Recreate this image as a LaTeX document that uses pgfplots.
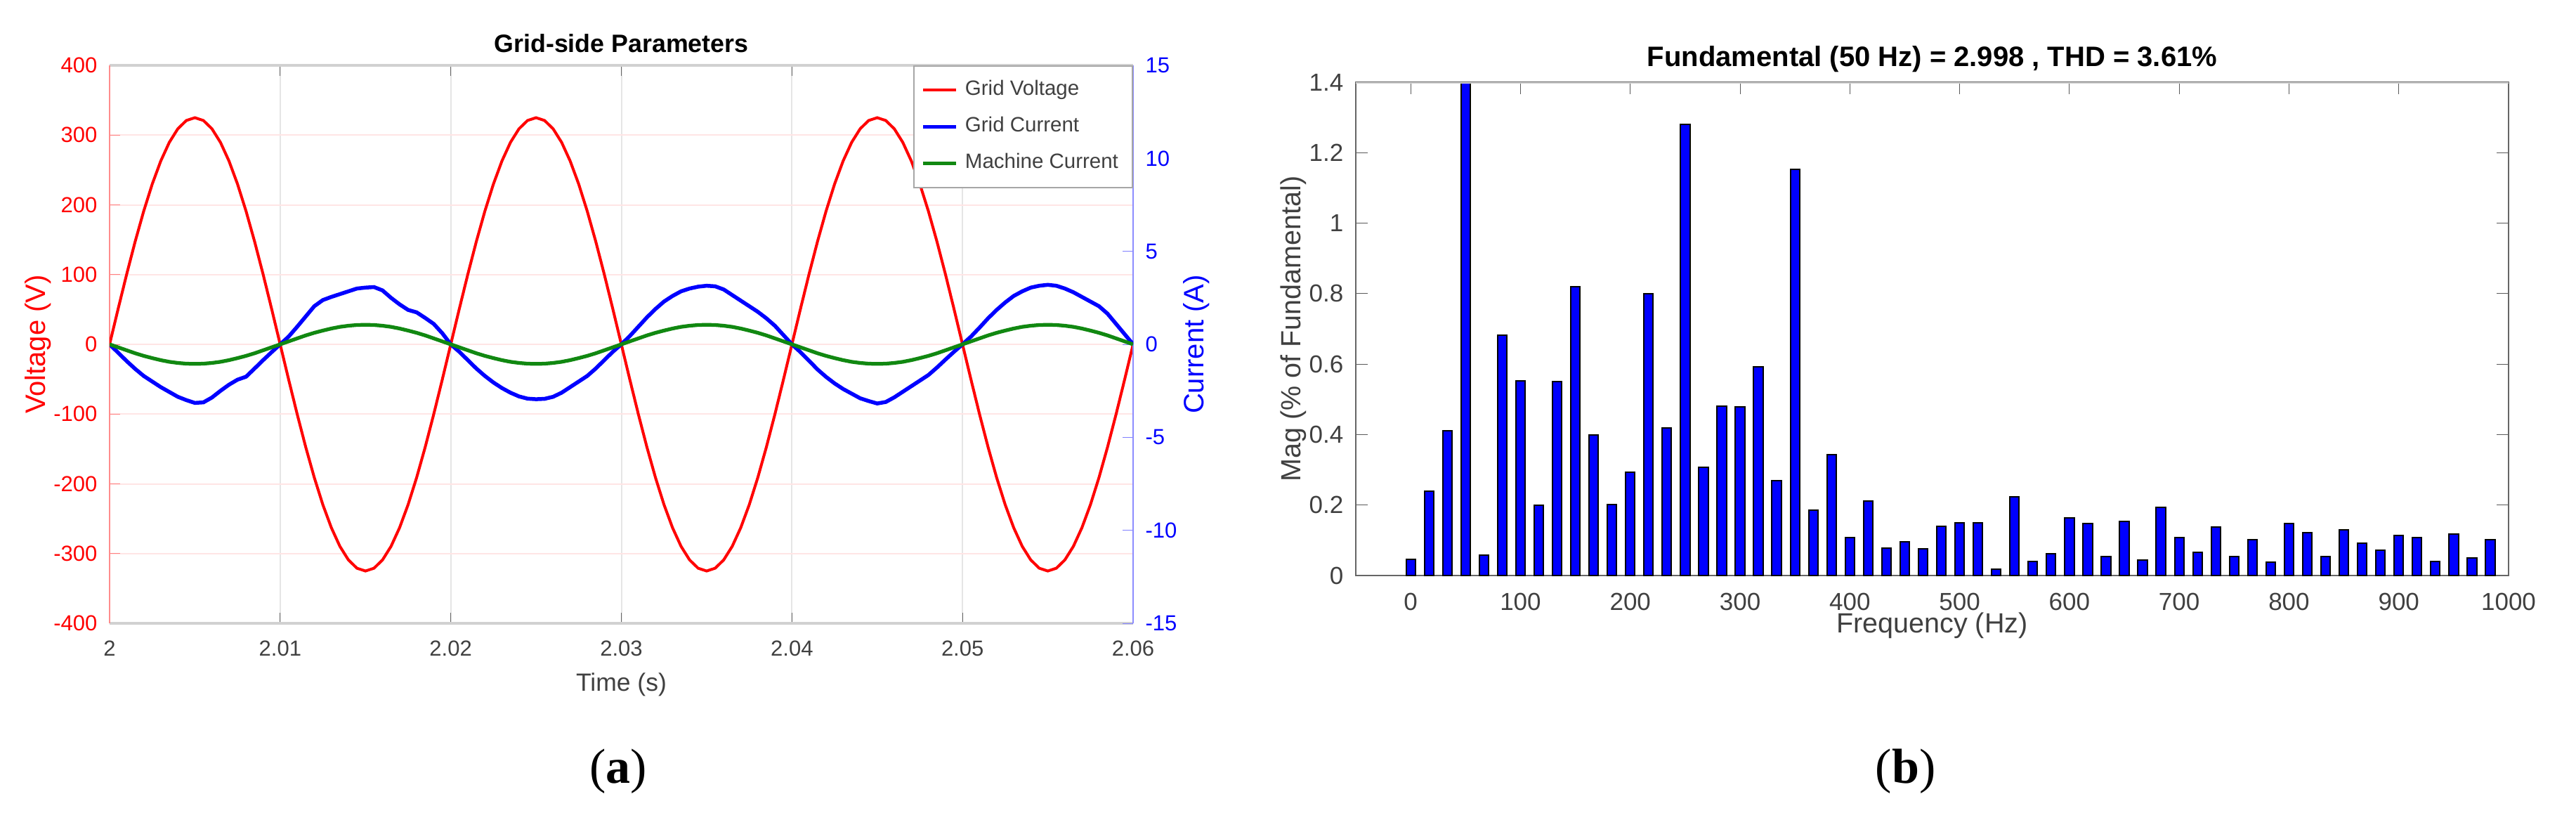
\documentclass[border=0pt]{standalone}
\usepackage{pgfplots}
\pgfplotsset{compat=1.18}
\usepackage{pgfplotstable}
\usepackage{fontspec}
\setmainfont{Liberation Sans}
\newfontfamily\capfont{Liberation Serif}

\definecolor{tickgray}{HTML}{404040}
\definecolor{mgreen}{HTML}{118811}

% time, grid voltage (V), grid current (A), machine current (A)
\pgfplotstableread{
t V Ig Im
2.0000 0 0 0
2.0005 50.8 -0.45 -0.16
2.0010 100.4 -0.90 -0.32
2.0015 147.5 -1.32 -0.48
2.0020 191.0 -1.70 -0.62
2.0025 229.8 -2.00 -0.74
2.0030 262.9 -2.30 -0.85
2.0035 289.6 -2.56 -0.94
2.0040 309.1 -2.82 -1.00
2.0045 321.0 -3.00 -1.04
2.0050 325.0 -3.15 -1.05
2.0055 321.0 -3.12 -1.04
2.0060 309.1 -2.86 -1.00
2.0065 289.6 -2.50 -0.94
2.0070 262.9 -2.17 -0.85
2.0075 229.8 -1.90 -0.74
2.0080 191.0 -1.74 -0.62
2.0085 147.5 -1.30 -0.48
2.0090 100.4 -0.85 -0.32
2.0095 50.8 -0.42 -0.16
2.0100 0 0 0
2.0105 -50.8 0.42 0.16
2.0110 -100.4 0.95 0.32
2.0115 -147.5 1.50 0.48
2.0120 -191.0 2.05 0.62
2.0125 -229.8 2.38 0.74
2.0130 -262.9 2.55 0.85
2.0135 -289.6 2.70 0.94
2.0140 -309.1 2.85 1.00
2.0145 -321.0 3.00 1.04
2.0150 -325.0 3.05 1.05
2.0155 -321.0 3.08 1.04
2.0160 -309.1 2.90 1.00
2.0165 -289.6 2.50 0.94
2.0170 -262.9 2.15 0.85
2.0175 -229.8 1.85 0.74
2.0180 -191.0 1.72 0.62
2.0185 -147.5 1.42 0.48
2.0190 -100.4 1.10 0.32
2.0195 -50.8 0.60 0.16
2.0200 0 0 0
2.0205 50.8 -0.40 -0.16
2.0210 100.4 -0.85 -0.32
2.0215 147.5 -1.30 -0.48
2.0220 191.0 -1.70 -0.62
2.0225 229.8 -2.05 -0.74
2.0230 262.9 -2.35 -0.85
2.0235 289.6 -2.60 -0.94
2.0240 309.1 -2.80 -1.00
2.0245 321.0 -2.92 -1.04
2.0250 325.0 -2.95 -1.05
2.0255 321.0 -2.93 -1.04
2.0260 309.1 -2.82 -1.00
2.0265 289.6 -2.60 -0.94
2.0270 262.9 -2.30 -0.85
2.0275 229.8 -2.00 -0.74
2.0280 191.0 -1.70 -0.62
2.0285 147.5 -1.30 -0.48
2.0290 100.4 -0.85 -0.32
2.0295 50.8 -0.40 -0.16
2.0300 0 0 0
2.0305 -50.8 0.45 0.16
2.0310 -100.4 0.95 0.32
2.0315 -147.5 1.45 0.48
2.0320 -191.0 1.90 0.62
2.0325 -229.8 2.30 0.74
2.0330 -262.9 2.60 0.85
2.0335 -289.6 2.85 0.94
2.0340 -309.1 3.00 1.00
2.0345 -321.0 3.10 1.04
2.0350 -325.0 3.15 1.05
2.0355 -321.0 3.12 1.04
2.0360 -309.1 2.95 1.00
2.0365 -289.6 2.65 0.94
2.0370 -262.9 2.35 0.85
2.0375 -229.8 2.05 0.74
2.0380 -191.0 1.75 0.62
2.0385 -147.5 1.40 0.48
2.0390 -100.4 1.00 0.32
2.0395 -50.8 0.50 0.16
2.0400 0 0 0
2.0405 50.8 -0.42 -0.16
2.0410 100.4 -0.88 -0.32
2.0415 147.5 -1.35 -0.48
2.0420 191.0 -1.75 -0.62
2.0425 229.8 -2.10 -0.74
2.0430 262.9 -2.40 -0.85
2.0435 289.6 -2.65 -0.94
2.0440 309.1 -2.90 -1.00
2.0445 321.0 -3.05 -1.04
2.0450 325.0 -3.18 -1.05
2.0455 321.0 -3.10 -1.04
2.0460 309.1 -2.85 -1.00
2.0465 289.6 -2.55 -0.94
2.0470 262.9 -2.25 -0.85
2.0475 229.8 -1.95 -0.74
2.0480 191.0 -1.65 -0.62
2.0485 147.5 -1.25 -0.48
2.0490 100.4 -0.82 -0.32
2.0495 50.8 -0.40 -0.16
2.0500 0 0 0
2.0505 -50.8 0.42 0.16
2.0510 -100.4 0.90 0.32
2.0515 -147.5 1.40 0.48
2.0520 -191.0 1.85 0.62
2.0525 -229.8 2.25 0.74
2.0530 -262.9 2.60 0.85
2.0535 -289.6 2.85 0.94
2.0540 -309.1 3.05 1.00
2.0545 -321.0 3.15 1.04
2.0550 -325.0 3.20 1.05
2.0555 -321.0 3.15 1.04
2.0560 -309.1 3.00 1.00
2.0565 -289.6 2.80 0.94
2.0570 -262.9 2.55 0.85
2.0575 -229.8 2.30 0.74
2.0580 -191.0 2.05 0.62
2.0585 -147.5 1.65 0.48
2.0590 -100.4 1.10 0.32
2.0595 -50.8 0.55 0.16
2.0600 0 0 0
}\gridtab

% harmonic spectrum, % of fundamental
\pgfplotstableread{
f m
0 0.046
16.67 0.240
33.33 0.411
50 1.4
66.67 0.057
83.33 0.682
100 0.553
116.67 0.200
133.33 0.550
150 0.820
166.67 0.399
183.33 0.202
200 0.294
216.67 0.800
233.33 0.418
250 1.280
266.67 0.308
283.33 0.480
300 0.478
316.67 0.593
333.33 0.270
350 1.152
366.67 0.186
383.33 0.343
400 0.108
416.67 0.212
433.33 0.077
450 0.096
466.67 0.075
483.33 0.139
500 0.149
516.67 0.149
533.33 0.017
550 0.223
566.67 0.039
583.33 0.061
600 0.163
616.67 0.147
633.33 0.053
650 0.153
666.67 0.044
683.33 0.194
700 0.108
716.67 0.065
733.33 0.137
750 0.054
766.67 0.101
783.33 0.038
800 0.147
816.67 0.122
833.33 0.053
850 0.129
866.67 0.092
883.33 0.071
900 0.113
916.67 0.108
933.33 0.039
950 0.117
966.67 0.049
983.33 0.102
}\bartab

\begin{document}
\begin{tikzpicture}
\useasboundingbox (0,0) rectangle (733.4pt,236.6pt);

% (a) left axis: voltage
\begin{axis}[
  at={(31.2pt,59.2pt)}, anchor=south west, scale only axis,
  width=291.4pt, height=158.8pt,
  xmin=2, xmax=2.06, ymin=-400, ymax=400,
  xtick={2,2.01,2.02,2.03,2.04,2.05,2.06},
  ytick={-400,-300,-200,-100,0,100,200,300,400},
  axis y line*=left,
  tick align=inside, major tick length=3pt,
  xmajorgrids, ymajorgrids,
  x grid style={black!10}, y grid style={red!10},
  x axis line style={black!18, line width=0.9pt},
  y axis line style={red!45},
  xtick style={black!60}, ytick style={red!50},
  /pgf/number format/assume math mode=true,
  xticklabel style={tickgray, font=\fontsize{6.2pt}{7pt}\selectfont, yshift=-1.5pt},
  yticklabel style={red, font=\fontsize{6.2pt}{7pt}\selectfont},
  xlabel={Time (s)},
  xlabel style={tickgray, font=\fontsize{7.1pt}{8pt}\selectfont, at={(axis description cs:0.5,-0.11)}, anchor=center},
  ylabel={Voltage (V)},
  ylabel style={red, font=\fontsize{8pt}{9pt}\selectfont, at={(axis description cs:-0.070,0.5)}, anchor=center, rotate=0},
  title={\textbf{Grid-side Parameters}},
  every axis title shift=0pt,
  title style={font=\fontsize{7.15pt}{8pt}\selectfont, at={(axis description cs:0.5,1.039)}, anchor=center},
]
\addplot[red, line width=0.8pt] table[x=t, y=V] {\gridtab};
\end{axis}

% (a) right axis: currents
\begin{axis}[
  at={(31.2pt,59.2pt)}, anchor=south west, scale only axis,
  width=291.4pt, height=158.8pt,
  xmin=2, xmax=2.06, ymin=-15, ymax=15,
  ytick={-15,-10,-5,0,5,10,15},
  axis y line*=right, axis x line=none,
  tick align=inside, major tick length=3pt,
  y axis line style={blue!45},
  ytick style={blue!50},
  /pgf/number format/assume math mode=true,
  yticklabel style={blue, font=\fontsize{6.2pt}{7pt}\selectfont},
  ylabel={Current (A)},
  ylabel style={blue, font=\fontsize{8pt}{9pt}\selectfont, at={(axis description cs:1.062,0.5)}, anchor=center, rotate=0},
  legend cell align=left,
  legend style={at={(rel axis cs:1,1)}, anchor=north east, draw=black!35,
    fill=white, font=\fontsize{5.9pt}{7pt}\selectfont, text=tickgray,
    row sep=0.6pt, inner sep=2pt},
  legend image code/.code={\draw[#1] (0pt,0pt) -- (9.4pt,0pt);},
]
\addlegendimage{red, line width=0.8pt}
\addlegendentry{Grid Voltage}
\addplot[blue, line width=1.1pt] table[x=t, y=Ig] {\gridtab};
\addlegendentry{Grid Current}
\addplot[mgreen, line width=1.05pt] table[x=t, y=Im] {\gridtab};
\addlegendentry{Machine Current}
\end{axis}

% (b) FFT spectrum
\begin{axis}[
  at={(386pt,72.8pt)}, anchor=south west, scale only axis,
  width=328.2pt, height=140.4pt,
  xmin=-50, xmax=1000, ymin=0, ymax=1.4,
  xtick={0,100,200,300,400,500,600,700,800,900,1000},
  ytick={0,0.2,0.4,0.6,0.8,1,1.2,1.4},
  ybar, bar width=8.5,
  tick align=inside, major tick length=3.4pt,
  axis line style={black!60},
  tick style={black!65},
  /pgf/number format/assume math mode=true,
  /pgf/number format/1000 sep={},
  ticklabel style={tickgray, font=\fontsize{7pt}{8pt}\selectfont},
  xticklabel style={yshift=-1.5pt},
  xlabel={Frequency (Hz)},
  xlabel style={tickgray, font=\fontsize{7.9pt}{9pt}\selectfont, at={(axis description cs:0.5,-0.101)}, anchor=center},
  ylabel={Mag (\% of Fundamental)},
  ylabel style={tickgray, font=\fontsize{7.9pt}{9pt}\selectfont, at={(axis description cs:-0.054,0.5)}, anchor=center, rotate=0},
  title={\textbf{Fundamental (50 Hz) = 2.998 , THD = 3.61\%}},
  every axis title shift=0pt,
  title style={font=\fontsize{8pt}{9pt}\selectfont, at={(axis description cs:0.5,1.047)}, anchor=center},
]
\addplot[fill=blue, draw=black, line width=0.4pt] table[x=f, y=m] {\bartab};
\draw[black!18, line width=0.9pt] (rel axis cs:0,1) -- (rel axis cs:1,1);
\end{axis}

\node[font=\capfont\fontsize{14pt}{16pt}\selectfont] at (176pt,17pt) {(\textbf{a})};
\node[font=\capfont\fontsize{14pt}{16pt}\selectfont] at (542.5pt,17pt) {(\textbf{b})};
\end{tikzpicture}
\end{document}
